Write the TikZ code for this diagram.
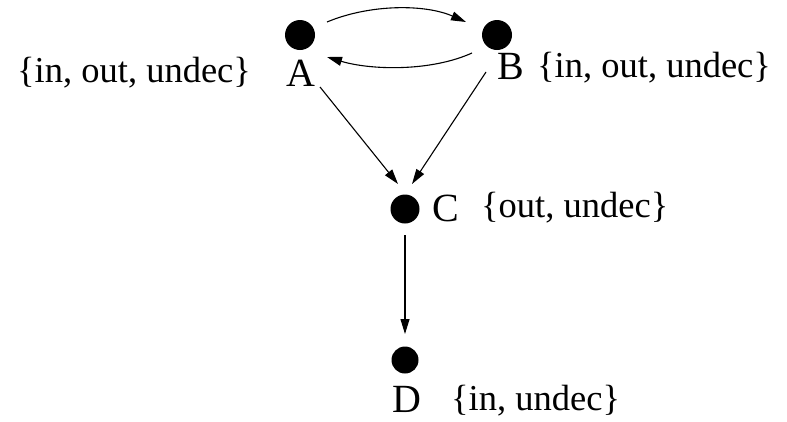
\documentclass[tikz,border=0pt]{standalone}
\usepackage{fontspec}
\setmainfont{Liberation Serif}
\usetikzlibrary{arrows.meta}
\tikzset{
  dot/.style={circle, fill=black, inner sep=0pt, minimum size=30pt},
  letter/.style={inner sep=0pt, anchor=base west, font=\fontsize{40}{44}\selectfont},
  setlabel/.style={inner sep=0pt, anchor=base west, font=\fontsize{36.5}{40}\selectfont},
  conn/.style={line width=1.1pt, -{Triangle[length=15pt,width=9pt]}}
}
\begin{document}
\begin{tikzpicture}[x=1pt,y=-1pt]
\useasboundingbox (0,0) rectangle (787,421);
% dots
\node[dot] (A) at (300,35) {};
\node[dot] (B) at (497,35) {};
\node[dot,minimum size=29pt] (C) at (405,209) {};
\node[dot,minimum size=27pt] (D) at (405,360) {};
% letters
\node[letter] (lA) at (286,86) {A};
\node[letter] (lB) at (497,79) {B};
\node[letter] (lC) at (432,221) {C};
\node[letter] (lD) at (392,412) {D};
% set labels
\node[setlabel] (sA) at (17,82) {\{in, out, undec\}};
\node[setlabel] (sB) at (537,77) {\{in, out, undec\}};
\node[setlabel] (sC) at (481,217) {\{out, undec\}};
\node[setlabel] (sD) at (451,410) {\{in, undec\}};
% connector end points
\coordinate (ab1) at (327,22);
\coordinate (ab2) at (466,22);
\coordinate (ba1) at (472,53);
\coordinate (ba2) at (327,57);
\coordinate (ac1) at (320,87);
\coordinate (ac2) at (398,184);
\coordinate (bc1) at (486,72);
\coordinate (bc2) at (412,184);
\coordinate (cd1) at (405,235);
\coordinate (cd2) at (405,334);
% connectors
\draw[conn] (ab1) .. controls (370,4) and (425,4) .. (ab2);
\draw[conn] (ba1) .. controls (430,72) and (370,70) .. (ba2);
\draw[conn] (ac1) -- (ac2);
\draw[conn] (bc1) -- (bc2);
\draw[conn] (cd1) -- (cd2);
\end{tikzpicture}
\end{document}
